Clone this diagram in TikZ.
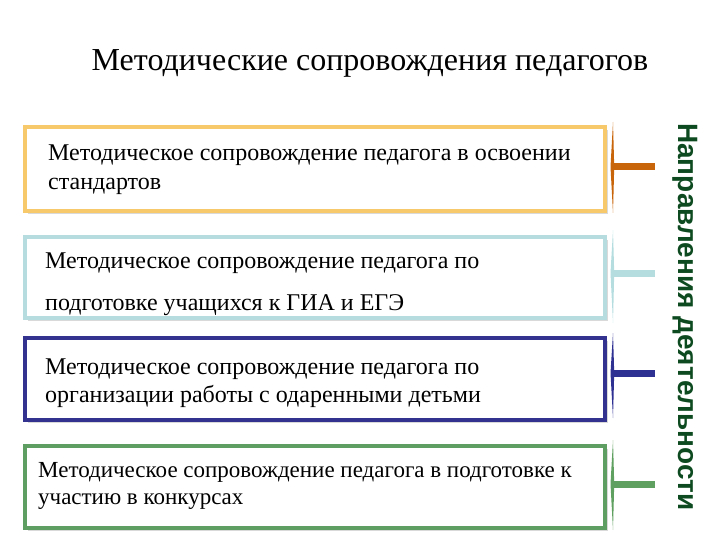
\documentclass[tikz,border=0pt]{standalone}
\usepackage{fontspec}
\setmainfont{Liberation Serif}
\newfontfamily\headsans{Liberation Sans}
\definecolor{cOrange}{HTML}{F7C96B}
\definecolor{cOrangeD}{HTML}{C8650A}
\definecolor{cLight}{HTML}{B7DCDF}
\definecolor{cLightD}{HTML}{B5DDE0}
\definecolor{cNavy}{HTML}{33338F}
\definecolor{cNavyD}{HTML}{2E3192}
\definecolor{cGreen}{HTML}{5E9E62}
\definecolor{cGreenD}{HTML}{5FA060}
\definecolor{cSide}{HTML}{0D4A1F}
\tikzset{
  boxframe/.style={draw=#1, line width=4.5pt, fill=white, rectangle, inner sep=0pt},
  boxtext/.style={anchor=west, align=left, inner sep=0pt, font=\fontsize{24}{29}\selectfont},
  stub/.style={draw=#1, line width=7pt},
}
\newcommand{\taper}[4]{%
  \fill[#1] (613,#2) -- (614.2,#3) -- (613,#4) -- (610.5,#3) -- cycle;}
\begin{document}
\begin{tikzpicture}[x=1pt,y=-1pt]
\useasboundingbox (0,0) rectangle (720,540);
% title
\node[font=\fontsize{32}{36}\selectfont, anchor=base] (title) at (370,71) {Методические сопровождения педагогов};
% shadows
\foreach \t/\b in {127/211, 237/318, 338/420, 446/528}{
  \fill[black!15] (28,\t+3) rectangle (608,\b+3);
}
% boxes
\node[boxframe=cOrange, minimum width=580pt, minimum height=84pt] (b1) at (315,169) {};
\node[boxframe=cLight, minimum width=580pt, minimum height=81pt] (b2) at (315,277.5) {};
\node[boxframe=cNavy, minimum width=580pt, minimum height=82pt] (b3) at (315,379) {};
\node[boxframe=cGreen, minimum width=580pt, minimum height=82pt] (b4) at (315,487) {};
% texts
\node[boxtext] (t1) at (48,170) {Методическое сопровождение педагога в освоении\\стандартов};
\node[boxtext, font=\fontsize{24}{42}\selectfont] (t2) at (45,284) {Методическое сопровождение педагога по\\подготовке учащихся к ГИА и ЕГЭ};
\node[boxtext, font=\fontsize{24}{28.5}\selectfont] (t3) at (45,383) {Методическое сопровождение педагога по\\организации работы с одаренными детьми};
\node[boxtext, font=\fontsize{23}{26.5}\selectfont] (t4) at (38,486) {Методическое сопровождение педагога в подготовке к\\участию в конкурсах};
% brackets
\taper{cOrangeD}{122}{167}{213}
\taper{cLightD}{230}{273}{323}
\taper{cNavyD}{333}{373}{418}
\taper{cGreenD}{440}{484}{530}
\coordinate (s1) at (612,167); \coordinate (e1) at (655,167);
\coordinate (s2) at (612,273); \coordinate (e2) at (655,273);
\coordinate (s3) at (612,373); \coordinate (e3) at (655,373);
\coordinate (s4) at (612,484); \coordinate (e4) at (655,484);
\draw[stub=cOrangeD] (s1) -- (e1);
\draw[stub=cLightD] (s2) -- (e2);
\draw[stub=cNavyD] (s3) -- (e3);
\draw[stub=cGreenD] (s4) -- (e4);
% side label
\node[rotate=-90, text=cSide, font=\headsans\bfseries\fontsize{28}{30}\selectfont] (side) at (685,317) {Направления деятельности};
\end{tikzpicture}
\end{document}
